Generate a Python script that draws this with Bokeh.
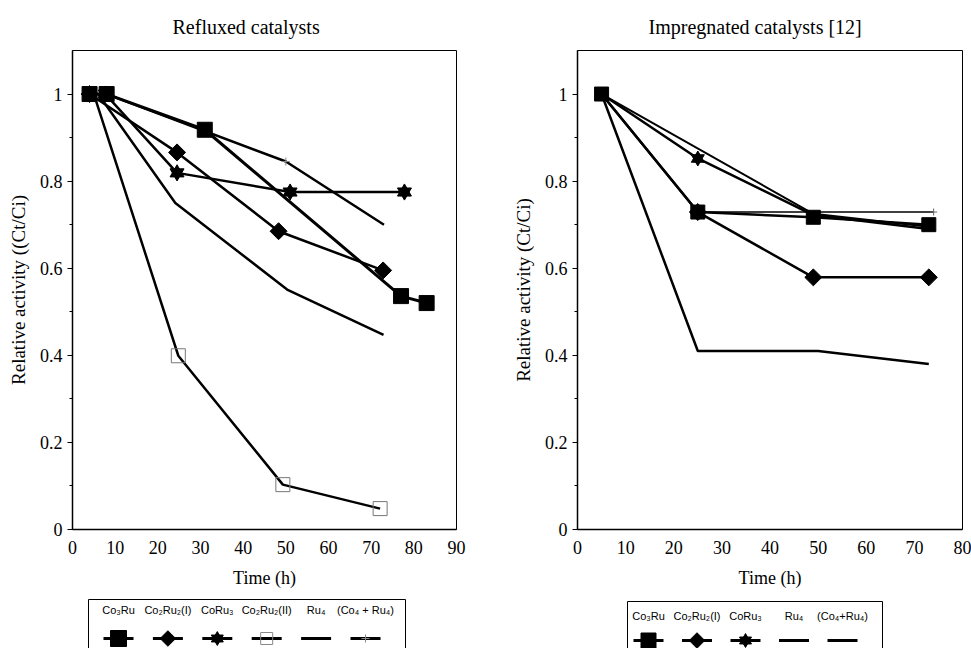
import math
from bokeh.plotting import figure
from bokeh.layouts import row, column
from bokeh.models import Range1d, FixedTicker, CustomJSTickFormatter
from bokeh.core.properties import value
from bokeh.embed import file_html
from bokeh.resources import INLINE

SERIF = "Liberation Serif"
SANS = "Liberation Sans"

# ---------------- data: Refluxed catalysts ----------------
ref_co3ru_t = [4, 8, 31, 77, 83]
ref_co3ru_a = [1.0, 1.0, 0.918, 0.536, 0.52]
ref_co2ru2i_t = [4, 24.5, 48.3, 72.8]
ref_co2ru2i_a = [1.0, 0.866, 0.685, 0.595]
ref_coru3_t = [7.7, 24.5, 51, 77.8]
ref_coru3_a = [1.0, 0.819, 0.775, 0.775]
ref_co2ru2ii_t = [5, 24.8, 49.3, 72.1]
ref_co2ru2ii_a = [1.0, 0.399, 0.103, 0.048]
ref_ru4_t = [6, 24.1, 50.3, 72.9]
ref_ru4_a = [1.0, 0.75, 0.551, 0.447]
ref_mix_t = [8, 50, 73]
ref_mix_a = [1.0, 0.845, 0.70]

# ---------------- data: Impregnated catalysts ----------------
imp_t = [5, 25, 49, 73]
imp_co3ru_a = [1.0, 0.729, 0.717, 0.70]
imp_co2ru2i_a = [1.0, 0.729, 0.579, 0.579]
imp_coru3_a = [1.0, 0.852, 0.722, 0.69]
imp_ru4_t = [5, 25, 50, 73]
imp_ru4_a = [1.0, 0.41, 0.41, 0.38]
imp_mix_t = [5, 49, 73]
imp_mix_a = [1.0, 0.725, 0.695]
imp_flat_t = [25, 49, 74]
imp_flat_a = [0.729, 0.729, 0.729]

# ---------------- ticks and labels ----------------
ref_xticks = [0, 10, 20, 30, 40, 50, 60, 70, 80, 90]
imp_xticks = [0, 10, 20, 30, 40, 50, 60, 70, 80]
yticks = [0, 0.2, 0.4, 0.6, 0.8, 1.0]
yminor = [0.1, 0.3, 0.5, 0.7, 0.9]
ref_labels = ["Co\u2083Ru", "Co\u2082Ru\u2082(I)", "CoRu\u2083", "Co\u2082Ru\u2082(II)", "Ru\u2084", "(Co\u2084 + Ru\u2084)"]
imp_labels = ["Co\u2083Ru", "Co\u2082Ru\u2082(I)", "CoRu\u2083", "Ru\u2084", "(Co\u2084+Ru\u2084)"]


def make_plot(title, ylabel, xmax, xticks, width, bl, br, bt, bb, toff):
    p = figure(width=width, height=590, x_range=Range1d(0, xmax), y_range=Range1d(0, 1.1),
               toolbar_location=None, output_backend="svg",
               min_border_left=bl, min_border_right=br, min_border_top=bt, min_border_bottom=bb)
    p.title.text = title
    p.title.align = "left"
    p.title.offset = toff
    p.title.standoff = 26
    p.title.text_font = SERIF
    p.title.text_font_size = "20px"
    p.title.text_font_style = "normal"
    p.title.text_color = "black"
    p.xgrid.visible = False
    p.ygrid.visible = False
    p.outline_line_color = "black"
    p.outline_line_width = 1
    p.background_fill_color = "white"
    p.border_fill_color = "white"

    p.xaxis.ticker = FixedTicker(ticks=xticks)
    p.xaxis.major_tick_line_color = None
    p.xaxis.minor_tick_line_color = None
    p.xaxis.major_label_text_font = SERIF
    p.xaxis.major_label_text_font_size = "18px"
    p.xaxis.major_label_text_color = "black"
    p.xaxis.major_label_standoff = 5
    p.xaxis.axis_label = "Time (h)"
    p.xaxis.axis_label_text_font = SERIF
    p.xaxis.axis_label_text_font_size = "18px"
    p.xaxis.axis_label_text_font_style = "normal"
    p.xaxis.axis_label_text_color = "black"
    p.xaxis.axis_label_standoff = 11
    p.xaxis.axis_line_width = 1.5

    p.yaxis.ticker = FixedTicker(ticks=yticks, minor_ticks=yminor)
    p.yaxis.formatter = CustomJSTickFormatter(code="return (Math.round(tick*10)/10).toString();")
    p.yaxis.major_tick_out = 5
    p.yaxis.major_tick_in = 0
    p.yaxis.minor_tick_out = 3
    p.yaxis.minor_tick_in = 0
    p.yaxis.major_label_text_font = SERIF
    p.yaxis.major_label_text_font_size = "18px"
    p.yaxis.major_label_text_color = "black"
    p.yaxis.major_label_standoff = 5
    p.yaxis.axis_label = ylabel
    p.yaxis.axis_label_text_font = SERIF
    p.yaxis.axis_label_text_font_size = "19px"
    p.yaxis.axis_label_text_font_style = "normal"
    p.yaxis.axis_label_text_color = "black"
    p.yaxis.axis_label_standoff = 8
    p.yaxis.axis_line_width = 1.5
    return p


def hexagram(p, x, y, size):
    p.scatter(x, y, marker="triangle", size=size, color="black")
    p.scatter(x, y, marker="inverted_triangle", size=size, color="black")


# layout (in px): left column 492 wide, right column 479 wide
L_W, L_BL, L_BR = 492, 72, 36
R_W, R_BL, R_BR = 479, 85, 9

# ---------------- left plot ----------------
pl = make_plot("Refluxed catalysts", "Relative activity ((Ct/Ci)", 90, ref_xticks,
               L_W, L_BL, L_BR, 50, 61, 100)
pl.line(ref_ru4_t, ref_ru4_a, color="black", line_width=2.5)
pl.line(ref_mix_t, ref_mix_a, color="black", line_width=2.5)
pl.line(ref_co2ru2ii_t, ref_co2ru2ii_a, color="black", line_width=2.5)
pl.line(ref_coru3_t, ref_coru3_a, color="black", line_width=2.5)
pl.line(ref_co2ru2i_t, ref_co2ru2i_a, color="black", line_width=2.5)
pl.line(ref_co3ru_t, ref_co3ru_a, color="black", line_width=3)
pl.scatter(ref_co2ru2ii_t[1:], ref_co2ru2ii_a[1:], marker="square", size=14,
           fill_color=None, line_color="#777777", line_width=1)
pl.scatter(ref_mix_t[1:2], ref_mix_a[1:2], marker="cross", size=8, line_color="#888888", line_width=1)
pl.scatter(ref_co2ru2i_t, ref_co2ru2i_a, marker="square", angle=math.pi / 4, size=12, color="black")
hexagram(pl, ref_coru3_t, ref_coru3_a, 14)
pl.scatter(ref_co3ru_t, ref_co3ru_a, marker="square", size=15, color="black")

# ---------------- right plot ----------------
pr = make_plot("Impregnated catalysts  [12]", "Relative activity (Ct/Ci)", 80, imp_xticks,
               R_W, R_BL, R_BR, 50, 61, 71)
pr.line(imp_ru4_t, imp_ru4_a, color="black", line_width=2.5)
pr.line(imp_mix_t, imp_mix_a, color="black", line_width=2)
pr.line(imp_flat_t, imp_flat_a, color="black", line_width=1.5)
pr.line(imp_t, imp_coru3_a, color="black", line_width=2.5)
pr.line(imp_t, imp_co2ru2i_a, color="black", line_width=2.5)
pr.line(imp_t, imp_co3ru_a, color="black", line_width=2.5)
pr.scatter(imp_flat_t[-1:], imp_flat_a[-1:], marker="cross", size=7, line_color="#666666", line_width=1)
pr.scatter(imp_t[1:], imp_co2ru2i_a[1:], marker="square", angle=math.pi / 4, size=12, color="black")
hexagram(pr, imp_t[1:2], imp_coru3_a[1:2], 13)
pr.scatter(imp_t, imp_co3ru_a, marker="square", size=14, color="black")


# ---------------- legends (same borders as plots; pixel ranges) ----------------
LEG_H = 58


def make_legend(width, bl, br, labels, box_l, box_r, box_t, x0, step, label_y, marker_y):
    fw = width - bl - br
    lg = figure(width=width, height=LEG_H, x_range=Range1d(0, fw), y_range=Range1d(LEG_H, 0),
                toolbar_location=None, output_backend="svg", x_axis_type=None, y_axis_type=None,
                min_border_left=bl, min_border_right=br, min_border_top=0, min_border_bottom=0)
    lg.xgrid.visible = False
    lg.ygrid.visible = False
    lg.outline_line_color = None
    lg.background_fill_color = "white"
    lg.border_fill_color = "white"
    lg.quad(left=[box_l], right=[box_r], top=[box_t], bottom=[LEG_H + 20], fill_color=None,
            line_color="black", line_width=1)
    idx = list(range(len(labels)))
    xs = [x0 + i * step for i in idx]
    lg.text(x=xs, y=[label_y] * len(idx), text=labels, text_align="center",
            text_baseline="middle", text_font=value(SANS), text_font_size="11px", text_color="black")
    lg.segment(x0=[x - 15 for x in xs], x1=[x + 15 for x in xs],
               y0=[marker_y] * len(idx), y1=[marker_y] * len(idx), line_width=3, line_color="black")
    return lg, xs


ll, lx = make_legend(L_W, L_BL, L_BR, ref_labels, 16, 333, 9, 46, 49.4, 19, 48)
ll.scatter([lx[0]], [48], marker="square", size=16, color="black")
ll.scatter([lx[1]], [48], marker="square", angle=math.pi / 4, size=11, color="black")
hexagram(ll, [lx[2]], [48], 12)
ll.scatter([lx[3]], [48], marker="square", size=12, fill_color=None, line_color="#888888", line_width=1)
ll.scatter([lx[5]], [48], marker="cross", size=8, line_color="#888888", line_width=1)

lr, rx = make_legend(R_W, R_BL, R_BR, imp_labels, 50, 305, 11, 71, 48.5, 25, 50)
lr.scatter([rx[0]], [50], marker="square", size=15, color="black")
lr.scatter([rx[1]], [50], marker="square", angle=math.pi / 4, size=11, color="black")
hexagram(lr, [rx[2]], [50], 12)

layout = row(column(pl, ll), column(pr, lr))
open("out.html", "w").write(file_html(layout, INLINE))
